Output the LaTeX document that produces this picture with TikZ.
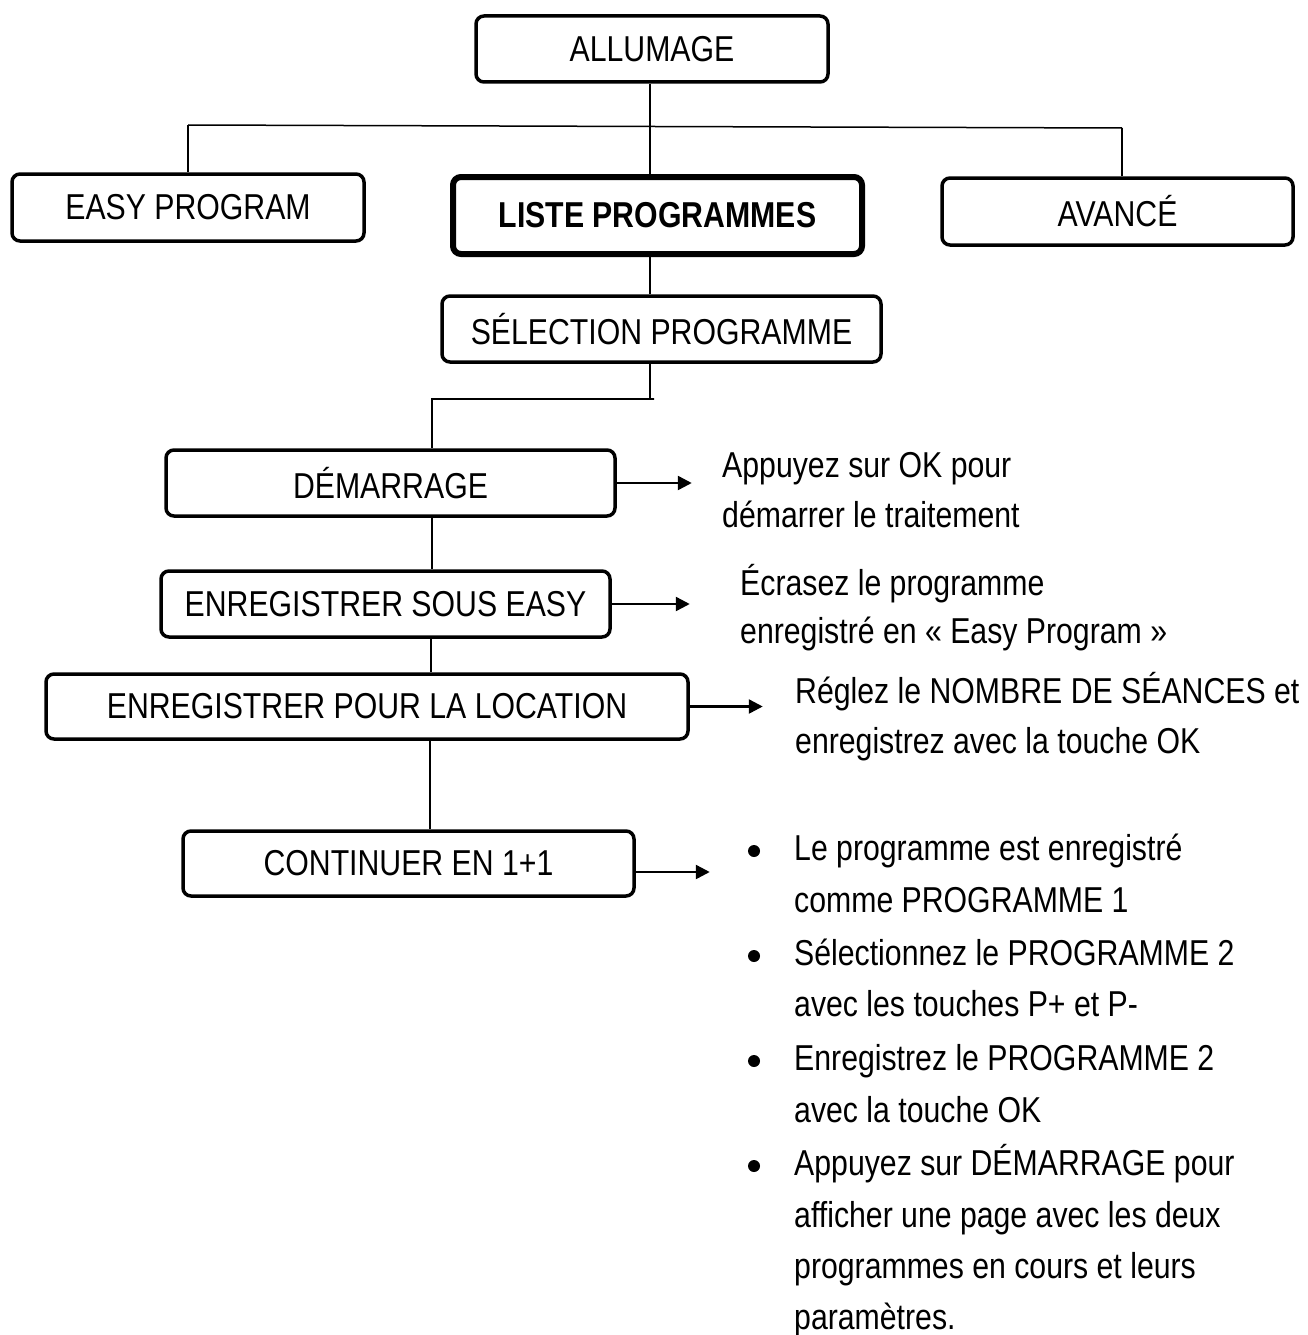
\documentclass[tikz,border=0pt]{standalone}
\usepackage{fontspec}
\setmainfont{Liberation Sans}[FakeStretch=0.84]
\usetikzlibrary{arrows.meta}
\begin{document}
\begin{tikzpicture}[x=1pt,y=-1pt,
  every node/.style={font=\fontsize{36}{50}\selectfont},
  box/.style={draw, line width=3.5pt, rounded corners=8pt, inner sep=0pt, align=center},
  thickbox/.style={box, line width=6pt, font=\fontsize{36}{50}\selectfont\bfseries},
  conn/.style={line width=1.5pt},
  arr/.style={line width=2.5pt, -{Triangle[length=14pt,width=14pt]}},
  txt/.style={anchor=base west, inner sep=0pt},
  dot/.style={circle, fill, inner sep=0pt, minimum size=12pt}]
\useasboundingbox (0,0) rectangle (1308,1335);

% boxes
\node[box, minimum width=352pt, minimum height=66pt] (allum) at (652,49) {ALLUMAGE};
\node[box, minimum width=352pt, minimum height=67pt] (easy) at (188,207.5) {EASY PROGRAM};
\node[thickbox, minimum width=409pt, minimum height=77pt] (liste) at (657.5,215.5) {LISTE PROGRAMMES};
\node[box, minimum width=351pt, minimum height=67pt] (avance) at (1117.5,211.5) {AVANCÉ};
\node[box, minimum width=439pt, minimum height=66pt] (selec) at (661.5,329) {SÉLECTION PROGRAMME};
\node[box, minimum width=449pt, minimum height=66pt] (demar) at (390.5,483) {DÉMARRAGE};
\node[box, minimum width=449pt, minimum height=66pt] (enreg) at (385.5,604) {ENREGISTRER SOUS EASY};
\node[box, minimum width=642pt, minimum height=65pt] (loc) at (367,706.5) {ENREGISTRER POUR LA LOCATION};
\node[box, minimum width=451pt, minimum height=65pt] (cont) at (408.5,863.5) {CONTINUER EN 1+1};

% tree connectors
\coordinate (bL) at (188,125);
\coordinate (bR) at (1122,128);
\coordinate (sp) at (650,0);
\coordinate (jR) at (654,399);
\coordinate (jL) at (432,399);
\coordinate (v2) at (431,0);
\coordinate (v3) at (430,0);
\coordinate (ay) at (0,872);
\draw[conn] (bL) -- (bR);
\draw[conn] (sp |- allum.south) -- (sp |- liste.north);
\draw[conn] (bL) -- (easy.north);
\draw[conn] (bR) -- (bR |- avance.north);
\draw[conn] (sp |- liste.south) -- (sp |- selec.north);
\draw[conn] (sp |- selec.south) -- (sp |- jR) -- (jR) -- (jL) -- (jL |- demar.north);
\draw[conn] (jL |- demar.south) -- (jL |- enreg.north);
\draw[conn] (v2 |- enreg.south) -- (v2 |- loc.north);
\draw[conn] (v3 |- loc.south) -- (v3 |- cont.north);

% arrows
\draw[arr] (demar.east) -- ++(75,0);
\draw[arr] (enreg.east) -- ++(78,0);
\draw[arr] (loc.east) -- ++(73,0);
\draw[arr] (cont.east |- ay) -- ++(74,0);

% right texts
\node[txt] (t1a) at (722,477) {Appuyez sur OK pour};
\node[txt] (t1b) at (722,527) {démarrer le traitement};
\node[txt] (t2a) at (740,595) {Écrasez le programme};
\node[txt] (t2b) at (740,643) {enregistré en « Easy Program »};
\node[txt] (t3a) at (795,703) {Réglez le NOMBRE DE SÉANCES et};
\node[txt] (t3b) at (795,753) {enregistrez avec la touche OK};

\node[dot] (d1) at (754,851) {};
\node[dot] (d2) at (754,956) {};
\node[dot] (d3) at (754,1061) {};
\node[dot] (d4) at (754,1166) {};
\node[txt] (l1) at (794,860) {Le programme est enregistré};
\node[txt] (l2) at (794,912) {comme PROGRAMME 1};
\node[txt] (l3) at (794,965) {Sélectionnez le PROGRAMME 2};
\node[txt] (l4) at (794,1016) {avec les touches P+ et P-};
\node[txt] (l5) at (794,1070) {Enregistrez le PROGRAMME 2};
\node[txt] (l6) at (794,1122) {avec la touche OK};
\node[txt] (l7) at (794,1175) {Appuyez sur DÉMARRAGE pour};
\node[txt] (l8) at (794,1227) {afficher une page avec les deux};
\node[txt] (l9) at (794,1278) {programmes en cours et leurs};
\node[txt] (l10) at (794,1329) {paramètres.};
\end{tikzpicture}
\end{document}
